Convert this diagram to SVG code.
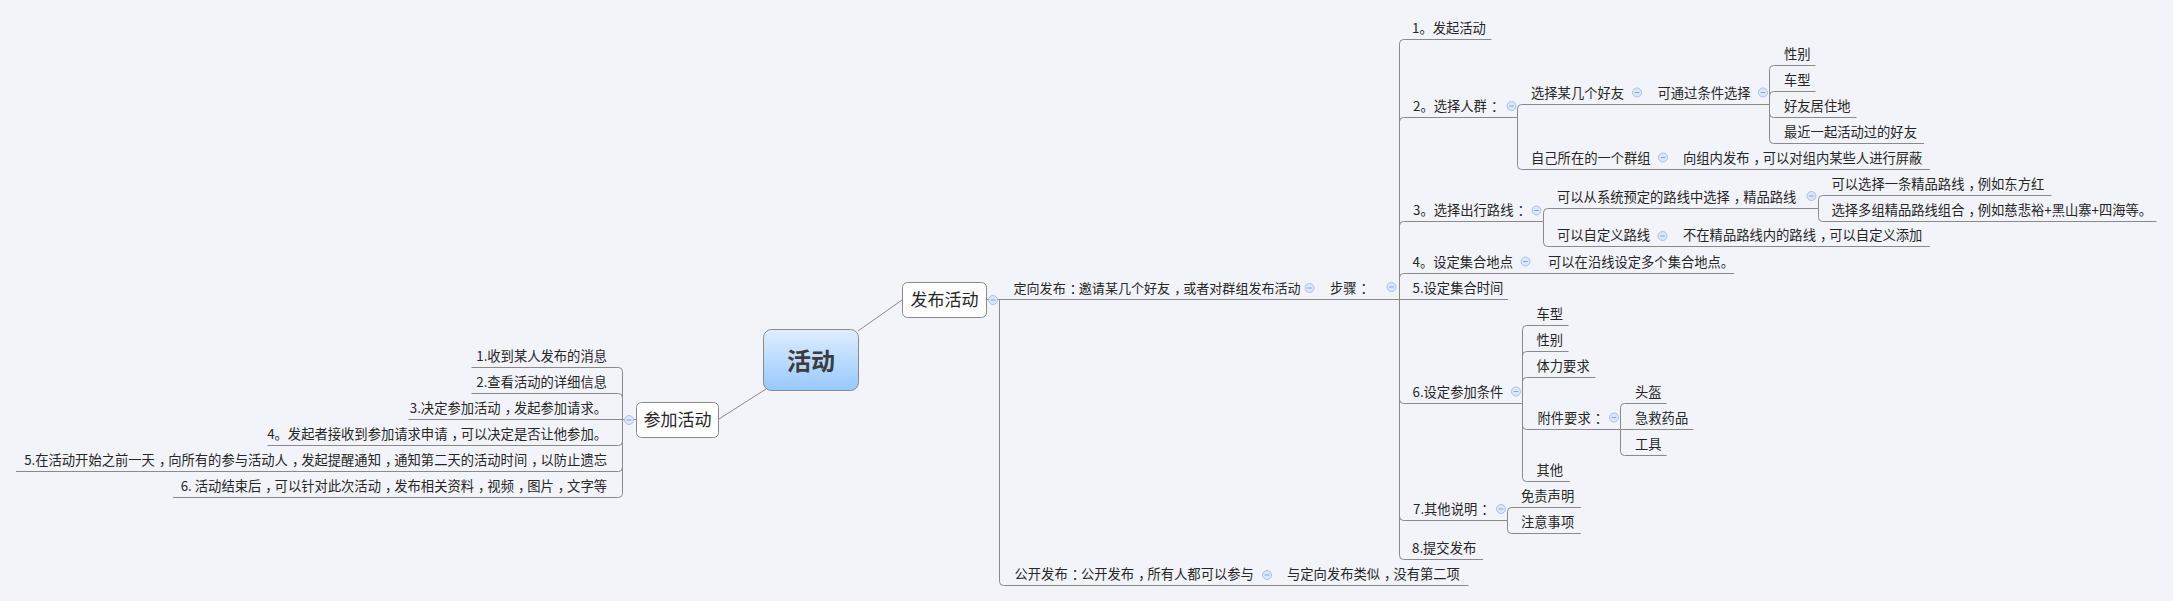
<svg xmlns="http://www.w3.org/2000/svg" xmlns:xlink="http://www.w3.org/1999/xlink" width="2173" height="601" viewBox="0 0 2173 601">
<defs>
<linearGradient id="gc" x1="0" y1="0" x2="0" y2="1">
<stop offset="0" stop-color="#deeeff"/>
<stop offset="1" stop-color="#98c8fc"/>
</linearGradient>
<g id="cb"><circle r="4.5" fill="#dbe7f9" stroke="#a9c2e8" stroke-width="1"/><path d="M-2.3 0H2.3" stroke="#86a6d8" stroke-width="1"/></g>
</defs>
<style>
text { font-family: "Noto Sans CJK SC", "Liberation Sans", sans-serif; font-size: 13.3px; fill: #262626; }
.big { font-size: 17px; }
.sm { font-size: 13.05px; }
.root { font-size: 24px; font-weight: bold; fill: #3c3c3c; }
.ln { fill: none; stroke: #8a8a8a; stroke-width: 1; }
.box { fill: #ffffff; stroke: #8a8a8a; stroke-width: 1; }
.end { text-anchor: end; }
.mid { text-anchor: middle; }
</style>
<rect x="0" y="0" width="2173" height="601" fill="#f3f4f9"/>

<g id="connectors" class="ln">
<path d="M766 389L719 419"/>
<path d="M858 331L902 300"/>
<path d="M636 419.5H622.5"/>
<path d="M622.5 419.5V371.5Q622.5 367.5 618.5 367.5H471.5"/>
<path d="M622.5 419.5V397.5Q622.5 393.5 618.5 393.5H471.5"/>
<path d="M622.5 419.5H408.5"/>
<path d="M622.5 419.5V441.5Q622.5 445.5 618.5 445.5H267.5"/>
<path d="M622.5 419.5V467.5Q622.5 471.5 618.5 471.5H16"/>
<path d="M622.5 419.5V493.5Q622.5 497.5 618.5 497.5H173"/>
<path d="M987 299.5H1399.5"/>
<path d="M999.5 299.5V581.5Q999.5 585.5 1003.5 585.5H1468.5"/>
<path d="M1399.5 299.5V43.5Q1399.5 39.5 1403.5 39.5H1491.5"/>
<path d="M1399.5 299.5V121.5Q1399.5 117.5 1403.5 117.5H1517.5"/>
<path d="M1399.5 299.5V225.5Q1399.5 221.5 1403.5 221.5H1543.5"/>
<path d="M1399.5 299.5V277.5Q1399.5 273.5 1403.5 273.5H1734"/>
<path d="M1399.5 299.5H1508"/>
<path d="M1399.5 299.5V399.5Q1399.5 403.5 1403.5 403.5H1522.5"/>
<path d="M1399.5 299.5V516.5Q1399.5 520.5 1403.5 520.5H1507.5"/>
<path d="M1399.5 299.5V555.5Q1399.5 559.5 1403.5 559.5H1483"/>
<path d="M1517.5 117.5V108.5Q1517.5 104.5 1521.5 104.5H1769.5"/>
<path d="M1517.5 117.5V165.5Q1517.5 169.5 1521.5 169.5H1930"/>
<path d="M1769.5 104.5V69.5Q1769.5 65.5 1773.5 65.5H1815.5"/>
<path d="M1769.5 104.5V95.5Q1769.5 91.5 1773.5 91.5H1815.5"/>
<path d="M1769.5 104.5V113.5Q1769.5 117.5 1773.5 117.5H1856.5"/>
<path d="M1769.5 104.5V139.5Q1769.5 143.5 1773.5 143.5H1924"/>
<path d="M1543.5 221.5V212.5Q1543.5 208.5 1547.5 208.5H1818.5"/>
<path d="M1543.5 221.5V242.5Q1543.5 246.5 1547.5 246.5H1930"/>
<path d="M1818.5 208.5V199.5Q1818.5 195.5 1822.5 195.5H2051.5"/>
<path d="M1818.5 208.5V217.5Q1818.5 221.5 1822.5 221.5H2156.5"/>
<path d="M1522.5 403.5V329.5Q1522.5 325.5 1526.5 325.5H1568.5"/>
<path d="M1522.5 403.5V355.5Q1522.5 351.5 1526.5 351.5H1568.5"/>
<path d="M1522.5 403.5V381.5Q1522.5 377.5 1526.5 377.5H1595.5"/>
<path d="M1522.5 403.5V425.5Q1522.5 429.5 1526.5 429.5H1620.5"/>
<path d="M1522.5 403.5V477.5Q1522.5 481.5 1526.5 481.5H1570"/>
<path d="M1620.5 429.5V407.5Q1620.5 403.5 1624.5 403.5H1666.5"/>
<path d="M1620.5 429.5H1693.5"/>
<path d="M1620.5 429.5V451.5Q1620.5 455.5 1624.5 455.5H1666.5"/>
<path d="M1507.5 520.5V511.5Q1507.5 507.5 1511.5 507.5H1581"/>
<path d="M1507.5 520.5V529.5Q1507.5 533.5 1511.5 533.5H1581"/>
</g>

<g id="n-root">
<rect x="763.5" y="329.5" width="95" height="61" rx="8" fill="url(#gc)" stroke="#8a8a8a"/>
<text class="root mid" x="811" y="370">活动</text>
</g>

<g id="n-join">
<rect class="box" x="636.5" y="402.5" width="82" height="35" rx="5"/>
<text class="big mid" x="677.5" y="426">参加活动</text>
<use xlink:href="#cb" x="629" y="420"/>
</g>
<g id="n-j1"><text class="end" x="607" y="361">1.收到某人发布的消息</text></g>
<g id="n-j2"><text class="end" x="607" y="387">2.查看活动的详细信息</text></g>
<g id="n-j3"><text class="end" x="607" y="413">3.决定参加活动<tspan dx="4">，</tspan><tspan dx="-4">发</tspan>起参加请求。</text></g>
<g id="n-j4"><text class="end" x="607" y="439">4。发起者接收到参加请求申请<tspan dx="4">，</tspan><tspan dx="-4">可</tspan>以决定是否让他参加。</text></g>
<g id="n-j5"><text class="end" x="607" y="465">5.在活动开始之前一天<tspan dx="4">，</tspan><tspan dx="-4">向</tspan>所有的参与活动人<tspan dx="4">，</tspan><tspan dx="-4">发</tspan>起提醒通知<tspan dx="4">，</tspan><tspan dx="-4">通</tspan>知第二天的活动时间<tspan dx="4">，</tspan><tspan dx="-4">以</tspan>防止遗忘</text></g>
<g id="n-j6"><text class="end" x="607" y="491">6. 活动结束后<tspan dx="4">，</tspan><tspan dx="-4">可</tspan>以针对此次活动<tspan dx="4">，</tspan><tspan dx="-4">发</tspan>布相关资料<tspan dx="4">，</tspan><tspan dx="-4">视</tspan>频<tspan dx="4">，</tspan><tspan dx="-4">图</tspan>片<tspan dx="4">，</tspan><tspan dx="-4">文</tspan>字等</text></g>

<g id="n-pub">
<rect class="box" x="902.5" y="282.5" width="84" height="35" rx="5"/>
<text class="big mid" x="944.5" y="306">发布活动</text>
<use xlink:href="#cb" x="993" y="300"/>
</g>
<g id="n-directed"><text class="sm" x="1013.5" y="293">定向发布<tspan dx="4">：</tspan><tspan dx="-4">邀</tspan>请某几个好友<tspan dx="4">，</tspan><tspan dx="-4">或</tspan>者对群组发布活动</text><use xlink:href="#cb" x="1309.5" y="288"/></g>
<g id="n-steps"><text x="1330" y="293">步骤<tspan dx="4">：</tspan></text><use xlink:href="#cb" x="1391.5" y="287"/></g>
<g id="n-public"><text x="1014.5" y="579">公开发布<tspan dx="4">：</tspan><tspan dx="-4">公</tspan>开发布<tspan dx="4">，</tspan><tspan dx="-4">所</tspan>有人都可以参与</text><use xlink:href="#cb" x="1267" y="575"/></g>
<g id="n-public1"><text x="1287" y="579">与定向发布类似<tspan dx="4">，</tspan><tspan dx="-4">没</tspan>有第二项</text></g>

<g id="n-s1"><text x="1412" y="33">1。发起活动</text></g>
<g id="n-s2"><text x="1413" y="111">2。选择人群<tspan dx="4">：</tspan></text><use xlink:href="#cb" x="1511.5" y="106"/></g>
<g id="n-s2a"><text x="1531" y="98">选择某几个好友</text><use xlink:href="#cb" x="1637" y="92.5"/></g>
<g id="n-s2a1"><text x="1657.5" y="98">可通过条件选择</text><use xlink:href="#cb" x="1763" y="92.5"/></g>
<g id="n-s2a1a"><text x="1784" y="59">性别</text></g>
<g id="n-s2a1b"><text x="1784" y="85">车型</text></g>
<g id="n-s2a1c"><text x="1784" y="111">好友居住地</text></g>
<g id="n-s2a1d"><text x="1784" y="137">最近一起活动过的好友</text></g>
<g id="n-s2b"><text x="1531" y="163">自己所在的一个群组</text><use xlink:href="#cb" x="1663" y="157.5"/></g>
<g id="n-s2b1"><text x="1683" y="163">向组内发布<tspan dx="4">，</tspan><tspan dx="-4">可</tspan>以对组内某些人进行屏蔽</text></g>

<g id="n-s3"><text x="1413" y="215">3。选择出行路线<tspan dx="4">：</tspan></text><use xlink:href="#cb" x="1536.5" y="210.5"/></g>
<g id="n-s3a"><text x="1557" y="202">可以从系统预定的路线中选择<tspan dx="4">，</tspan><tspan dx="-4">精</tspan>品路线</text><use xlink:href="#cb" x="1811.5" y="196"/></g>
<g id="n-s3a1"><text x="1831.5" y="189">可以选择一条精品路线<tspan dx="4">，</tspan><tspan dx="-4">例</tspan>如东方红</text></g>
<g id="n-s3a2"><text x="1831.5" y="215">选择多组精品路线组合<tspan dx="4">，</tspan><tspan dx="-4">例</tspan>如慈悲裕+黑山寨+四海等。</text></g>
<g id="n-s3b"><text x="1557" y="240">可以自定义路线</text><use xlink:href="#cb" x="1662.5" y="236"/></g>
<g id="n-s3b1"><text x="1683" y="240">不在精品路线内的路线<tspan dx="4">，</tspan><tspan dx="-4">可</tspan>以自定义添加</text></g>

<g id="n-s4"><text x="1412.5" y="267">4。设定集合地点</text><use xlink:href="#cb" x="1525.5" y="261.5"/></g>
<g id="n-s4a"><text x="1548" y="267">可以在沿线设定多个集合地点。</text></g>
<g id="n-s5"><text x="1412.5" y="293">5.设定集合时间</text></g>

<g id="n-s6"><text x="1412.5" y="397">6.设定参加条件</text><use xlink:href="#cb" x="1516" y="391.5"/></g>
<g id="n-s6a"><text x="1536.5" y="319">车型</text></g>
<g id="n-s6b"><text x="1536.5" y="345">性别</text></g>
<g id="n-s6c"><text x="1536.5" y="371">体力要求</text></g>
<g id="n-s6d"><text x="1537.5" y="423">附件要求<tspan dx="4">：</tspan></text><use xlink:href="#cb" x="1614" y="417.5"/></g>
<g id="n-s6d1"><text x="1635" y="397">头盔</text></g>
<g id="n-s6d2"><text x="1635" y="423">急救药品</text></g>
<g id="n-s6d3"><text x="1635" y="449">工具</text></g>
<g id="n-s6e"><text x="1536.5" y="475">其他</text></g>

<g id="n-s7"><text x="1413" y="514">7.其他说明<tspan dx="4">：</tspan></text><use xlink:href="#cb" x="1501" y="509"/></g>
<g id="n-s7a"><text x="1521" y="501">免责声明</text></g>
<g id="n-s7b"><text x="1521" y="527">注意事项</text></g>
<g id="n-s8"><text x="1412" y="553">8.提交发布</text></g>
</svg>
